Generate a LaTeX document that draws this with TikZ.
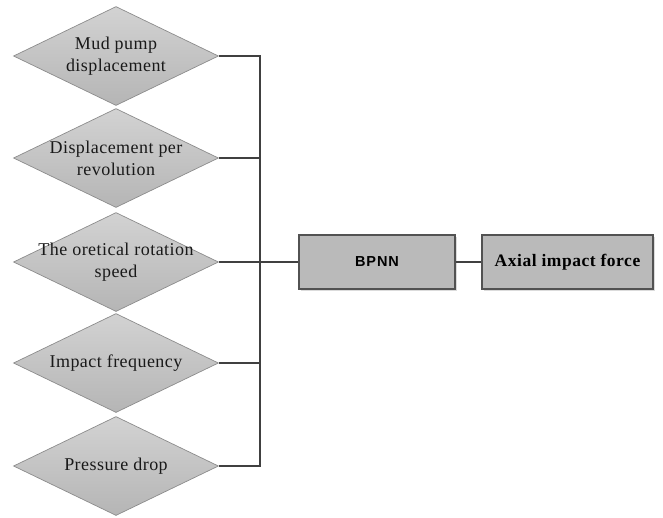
\documentclass[tikz,border=0pt]{standalone}
\usepackage{fontspec}
\setmainfont{Liberation Serif}[LetterSpace=2.5]
\newfontfamily\boxsans{Liberation Sans}[LetterSpace=6]
\newfontfamily\boxserif{Liberation Serif}[LetterSpace=3]
\usetikzlibrary{shapes.geometric,shadows}
\definecolor{wire}{HTML}{404040}
\definecolor{rim}{HTML}{8C8C8C}
\tikzset{
  x=1pt, y=-1pt,
  inputshape/.style={shape=diamond, draw=rim, line width=0.7pt,
    top color=gray!35, bottom color=gray!58,
    minimum width=205pt, minimum height=99pt, inner sep=0pt},
  inputtext/.style={align=center, font=\fontsize{18}{22}\selectfont, text=black!90},
  stagebox/.style={draw=black!68, line width=1.6pt, fill=gray!54,
    minimum height=54pt, inner sep=0pt,
    drop shadow={shadow xshift=2pt, shadow yshift=-2pt, fill=gray!40, opacity=0.7}},
  link/.style={draw=wire, line width=1.1pt}
}
\begin{document}
\begin{tikzpicture}
\useasboundingbox (0,0) rectangle (663,517);
% five input variables
\node[inputshape] (d1) at (116,56) {};
\node[inputshape] (d2) at (116,158) {};
\node[inputshape] (d3) at (116,262) {};
\node[inputshape] (d4) at (116,363) {};
\node[inputshape] (d5) at (116,466) {};
\node[inputtext] (t1) at (d1) {Mud pump\\displacement};
\node[inputtext] (t2) at (d2) {Displacement per\\revolution};
\node[inputtext] (t3) at (d3) {The oretical rotation\\speed};
\node[inputtext] (t4) at (d4) {Impact frequency};
\node[inputtext] (t5) at (d5) {Pressure drop};
% network and output
\node[stagebox, minimum width=156pt] (bp) at (377,262) {\boxsans\bfseries\fontsize{14.5}{16}\selectfont BPNN};
\node[stagebox, minimum width=171pt] (out) at (567.5,262) {\boxserif\bfseries\fontsize{17.5}{20}\selectfont Axial impact force};
% collecting bus
\coordinate (bt) at (260,56);
\coordinate (bb) at (260,466);
\coordinate (bm) at (260,262);
\draw[link] (d1.east) -- (bt) -- (bb) -- (d5.east);
\draw[link] (d2.east) -- (d2.east -| bt);
\draw[link] (d3.east) -- (bm);
\draw[link] (d4.east) -- (d4.east -| bt);
\draw[link] (bm) -- (bp.west);
\draw[link] (bp.east) -- (out.west);
\end{tikzpicture}
\end{document}
